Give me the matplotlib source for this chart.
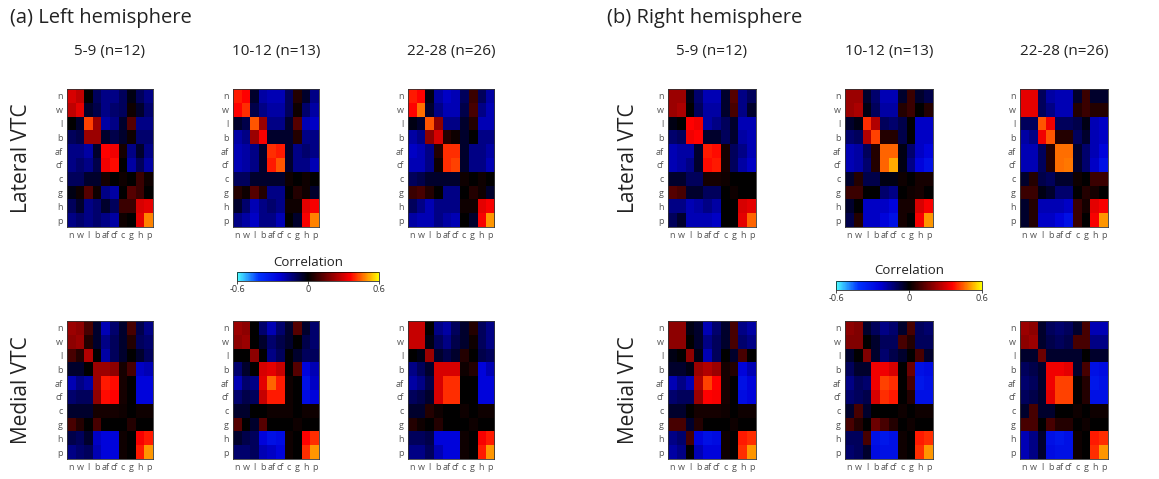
import numpy as np
import matplotlib
matplotlib.use("Agg")
import matplotlib.pyplot as plt
from matplotlib.colors import LinearSegmentedColormap

plt.rcParams['font.family'] = ['Open Sans', 'DejaVu Sans']

# category labels (rows/cols of every matrix)
categories = ['n', 'w', 'l', 'b', 'af', 'cf', 'c', 'g', 'h', 'p']
age_groups = ['5-9 (n=12)', '10-12 (n=13)', '22-28 (n=26)']
row_names = ['Lateral VTC', 'Medial VTC']
hemi_titles = ['(a) Left hemisphere', '(b) Right hemisphere']
cbar_ticks = [-0.6, 0, 0.6]
cbar_ticklabels = ['-0.6', '0', '0.6']

# lower triangles of the correlation matrices (row i holds cols 0..i)
left_lateral_5_9 = [
    [0.30],
    [0.27, 0.32],
    [0.00, -0.05, 0.42],
    [-0.10, -0.08, 0.22, 0.22],
    [-0.15, -0.15, -0.18, -0.05, 0.36],
    [-0.15, -0.12, -0.15, -0.08, 0.34, 0.37],
    [-0.10, -0.10, -0.05, -0.05, 0.03, 0.00, 0.02],
    [-0.02, 0.02, 0.12, 0.02, -0.15, -0.18, 0.00, 0.12],
    [-0.10, -0.05, -0.15, -0.12, -0.05, -0.10, 0.08, 0.08, 0.30],
    [-0.15, -0.12, -0.15, -0.12, -0.15, -0.18, 0.02, 0.00, 0.32, 0.48],
]
left_lateral_10_12 = [
    [0.38],
    [0.36, 0.40],
    [-0.05, -0.08, 0.44],
    [-0.18, -0.15, 0.22, 0.35],
    [-0.20, -0.18, -0.15, -0.05, 0.40],
    [-0.20, -0.18, -0.15, -0.05, 0.38, 0.44],
    [-0.10, -0.10, -0.05, -0.05, -0.05, -0.05, 0.02],
    [0.05, 0.02, 0.12, 0.05, -0.15, -0.15, 0.00, 0.05],
    [-0.05, -0.12, -0.20, -0.15, -0.12, -0.15, 0.02, 0.02, 0.32],
    [-0.15, -0.18, -0.22, -0.15, -0.15, -0.20, 0.00, -0.05, 0.35, 0.48],
]
left_lateral_22_28 = [
    [0.38],
    [0.36, 0.46],
    [-0.02, -0.05, 0.44],
    [-0.18, -0.15, 0.20, 0.30],
    [-0.22, -0.20, -0.15, 0.05, 0.40],
    [-0.20, -0.20, -0.15, 0.02, 0.40, 0.42],
    [-0.10, -0.08, -0.05, -0.05, -0.05, -0.05, 0.02],
    [0.08, 0.10, 0.05, 0.00, -0.15, -0.15, 0.00, 0.05],
    [-0.10, -0.15, -0.20, -0.15, -0.15, -0.15, 0.02, 0.02, 0.32],
    [-0.18, -0.20, -0.20, -0.15, -0.18, -0.20, 0.00, -0.05, 0.35, 0.50],
]
right_lateral_5_9 = [
    [0.22],
    [0.22, 0.24],
    [-0.02, 0.00, 0.36],
    [-0.12, -0.10, 0.34, 0.36],
    [-0.20, -0.18, -0.18, -0.05, 0.38],
    [-0.20, -0.18, -0.15, -0.05, 0.37, 0.38],
    [-0.05, -0.05, -0.10, -0.10, 0.03, 0.03, 0.02],
    [0.12, 0.10, -0.05, -0.05, -0.10, -0.10, 0.00, 0.02],
    [-0.15, -0.15, -0.20, -0.18, -0.15, -0.18, 0.00, 0.00, 0.30],
    [-0.10, -0.05, -0.20, -0.20, -0.20, -0.22, 0.00, 0.00, 0.32, 0.45],
]
right_lateral_10_12 = [
    [0.22],
    [0.22, 0.24],
    [-0.05, -0.02, 0.40],
    [-0.12, -0.10, 0.25, 0.42],
    [-0.20, -0.18, -0.10, 0.05, 0.45],
    [-0.20, -0.18, -0.12, 0.05, 0.45, 0.52],
    [-0.05, 0.05, -0.08, -0.08, -0.02, -0.02, 0.02],
    [0.08, 0.08, 0.00, 0.00, -0.12, -0.15, 0.00, 0.02],
    [-0.05, 0.00, -0.22, -0.22, -0.22, -0.25, 0.03, 0.03, 0.30],
    [-0.08, 0.05, -0.22, -0.22, -0.25, -0.30, 0.03, 0.00, 0.35, 0.50],
]
right_lateral_22_28 = [
    [0.32],
    [0.32, 0.32],
    [-0.10, -0.10, 0.44],
    [-0.18, -0.15, 0.34, 0.44],
    [-0.20, -0.20, -0.10, 0.05, 0.46],
    [-0.20, -0.20, -0.10, 0.05, 0.46, 0.47],
    [-0.05, 0.05, -0.08, -0.10, -0.05, -0.05, 0.02],
    [0.08, 0.08, -0.02, -0.05, -0.12, -0.12, 0.00, 0.05],
    [-0.05, 0.05, -0.20, -0.20, -0.20, -0.22, 0.08, 0.03, 0.32],
    [-0.05, 0.05, -0.22, -0.22, -0.25, -0.30, 0.08, 0.00, 0.35, 0.50],
]
left_medial_5_9 = [
    [0.22],
    [0.20, 0.22],
    [0.10, 0.05, 0.25],
    [-0.05, -0.05, 0.00, 0.22],
    [-0.20, -0.15, -0.18, 0.22, 0.38],
    [-0.12, -0.10, -0.10, 0.20, 0.37, 0.36],
    [-0.05, -0.05, -0.05, 0.03, 0.03, 0.03, 0.02],
    [0.10, 0.05, 0.00, 0.10, 0.00, 0.00, 0.00, 0.05],
    [-0.08, -0.10, -0.05, -0.22, -0.25, -0.25, 0.02, 0.00, 0.35],
    [-0.15, -0.12, -0.10, -0.20, -0.25, -0.25, 0.02, 0.00, 0.38, 0.50],
]
left_medial_10_12 = [
    [0.22],
    [0.20, 0.22],
    [0.00, 0.00, 0.20],
    [-0.12, -0.05, 0.00, 0.30],
    [-0.20, -0.12, -0.15, 0.32, 0.45],
    [-0.12, -0.08, -0.10, 0.28, 0.38, 0.38],
    [-0.05, -0.05, 0.00, 0.00, 0.02, 0.02, 0.02],
    [0.12, 0.00, -0.05, 0.12, 0.00, 0.00, 0.00, 0.02],
    [-0.05, -0.08, -0.10, -0.25, -0.30, -0.28, 0.02, 0.00, 0.36],
    [-0.12, -0.12, -0.10, -0.20, -0.22, -0.25, 0.02, 0.00, 0.40, 0.50],
]
left_medial_22_28 = [
    [0.28],
    [0.28, 0.28],
    [0.00, -0.02, 0.22],
    [-0.15, -0.10, -0.05, 0.30],
    [-0.18, -0.15, -0.08, 0.30, 0.40],
    [-0.10, -0.08, -0.05, 0.30, 0.40, 0.40],
    [-0.05, -0.05, 0.05, 0.02, 0.00, 0.00, 0.02],
    [0.05, 0.02, 0.00, 0.05, 0.00, 0.00, 0.00, 0.02],
    [-0.10, -0.10, -0.08, -0.25, -0.25, -0.25, 0.02, 0.00, 0.35],
    [-0.15, -0.15, -0.10, -0.20, -0.25, -0.25, 0.02, 0.00, 0.38, 0.50],
]
right_medial_5_9 = [
    [0.20],
    [0.20, 0.20],
    [-0.02, 0.00, 0.20],
    [-0.05, -0.05, -0.02, 0.22],
    [-0.20, -0.15, -0.20, 0.25, 0.42],
    [-0.12, -0.10, -0.10, 0.22, 0.36, 0.35],
    [-0.05, -0.05, 0.00, 0.03, 0.03, 0.03, 0.02],
    [0.10, 0.10, -0.05, 0.05, 0.00, 0.00, 0.00, 0.02],
    [-0.15, -0.12, 0.10, -0.25, -0.30, -0.28, 0.02, 0.00, 0.38],
    [-0.18, -0.15, 0.00, -0.20, -0.25, -0.25, 0.02, 0.00, 0.40, 0.50],
]
right_medial_10_12 = [
    [0.20],
    [0.18, 0.18],
    [-0.05, 0.00, 0.18],
    [-0.10, -0.05, -0.05, 0.34],
    [-0.15, -0.10, -0.12, 0.34, 0.42],
    [-0.12, -0.10, -0.08, 0.30, 0.40, 0.38],
    [-0.05, 0.10, -0.05, 0.00, 0.00, 0.00, 0.02],
    [0.10, 0.05, 0.00, 0.15, 0.10, 0.05, 0.00, 0.02],
    [-0.10, -0.10, 0.10, -0.30, -0.32, -0.30, 0.02, 0.00, 0.38],
    [-0.12, -0.10, -0.05, -0.28, -0.30, -0.30, 0.02, 0.00, 0.40, 0.50],
]
right_medial_22_28 = [
    [0.22],
    [0.20, 0.22],
    [-0.05, -0.05, 0.15],
    [-0.10, -0.08, -0.05, 0.34],
    [-0.12, -0.10, -0.05, 0.34, 0.42],
    [-0.10, -0.08, -0.05, 0.32, 0.42, 0.42],
    [-0.05, 0.10, -0.05, -0.05, 0.00, 0.00, 0.02],
    [0.10, 0.10, 0.00, 0.10, 0.05, 0.05, 0.00, 0.02],
    [-0.20, -0.15, -0.05, -0.30, -0.32, -0.30, 0.02, 0.00, 0.38],
    [-0.20, -0.15, -0.05, -0.28, -0.30, -0.30, 0.02, 0.00, 0.40, 0.50],
]

panels = {
    (0, 0): [left_lateral_5_9, left_lateral_10_12, left_lateral_22_28],
    (0, 1): [left_medial_5_9, left_medial_10_12, left_medial_22_28],
    (1, 0): [right_lateral_5_9, right_lateral_10_12, right_lateral_22_28],
    (1, 1): [right_medial_5_9, right_medial_10_12, right_medial_22_28],
}


def full_matrix(tri):
    m = np.zeros((len(tri), len(tri)))
    for i, row in enumerate(tri):
        for j, v in enumerate(row):
            m[i, j] = v
            m[j, i] = v
    return m


# cyan - blue - black - red - yellow map
cmap = LinearSegmentedColormap.from_list(
    'corr', [(0.0, (0.3, 1.0, 1.0)), (0.15, (0.0, 0.2, 1.0)), (0.3, (0.0, 0.0, 0.85)),
             (0.5, (0.0, 0.0, 0.0)), (0.8, (1.0, 0.0, 0.0)), (1.0, (1.0, 1.0, 0.0))])

W, H = 1159, 479
fig = plt.figure(figsize=(W / 100, H / 100), dpi=100)


def px_axes(x, y, w, h):
    return fig.add_axes([x / W, 1 - (y + h) / H, w / W, h / H])


def fx(x):
    return x / W


def fy(y):
    return 1 - y / H


# pixel layout: the two hemisphere panels have slightly different scales
hm_w = [86, 88]
hm_h = [138, 138]
col_x = [[67, 233, 408], [668, 845, 1020]]
row_y = [[89, 321], [89, 321]]
label_x = [22, 628]
title_x = [10, 607]
cbar_box = [(237, 272, 142, 9), (836, 281, 146, 9)]

for h in range(2):
    fig.text(fx(title_x[h]), fy(18), hemi_titles[h], fontsize=14.5, ha='left', va='center', color='#222222')
    for c in range(3):
        fig.text(fx(col_x[h][c] + hm_w[h] / 2), fy(52), age_groups[c], fontsize=11,
                 ha='center', va='center', color='#222222')
    for r in range(2):
        fig.text(fx(label_x[h]), fy(row_y[h][r] + hm_h[h] / 2), row_names[r], fontsize=15,
                 rotation=90, ha='center', va='center', color='#222222')
        for c in range(3):
            ax = px_axes(col_x[h][c], row_y[h][r], hm_w[h], hm_h[h])
            im = ax.imshow(full_matrix(panels[(h, r)][c]), cmap=cmap, vmin=-0.6, vmax=0.6,
                           interpolation='nearest', aspect='auto')
            ax.set_xticks(range(len(categories)))
            ax.set_yticks(range(len(categories)))
            ax.set_xticklabels(categories, fontsize=6.5, color='#555555')
            ax.set_yticklabels(categories, fontsize=6.5, color='#555555')
            ax.tick_params(length=0, pad=3)
            for s in ax.spines.values():
                s.set_color('#333333')
                s.set_linewidth(0.6)

    # colorbar under the middle column
    cx, cy, cw, ch = cbar_box[h]
    cax = px_axes(cx, cy, cw, ch)
    cb = fig.colorbar(im, cax=cax, orientation='horizontal', ticks=cbar_ticks)
    cb.ax.set_xticklabels(cbar_ticklabels, fontsize=6.5, color='#333333')
    cb.ax.tick_params(length=2, width=0.5, pad=1)
    cb.outline.set_linewidth(0.5)
    fig.text(fx(cx + cw / 2), fy(cy - 10), 'Correlation', fontsize=9.5,
             ha='center', va='center', color='#222222')

fig.savefig('out.png', dpi=100)
